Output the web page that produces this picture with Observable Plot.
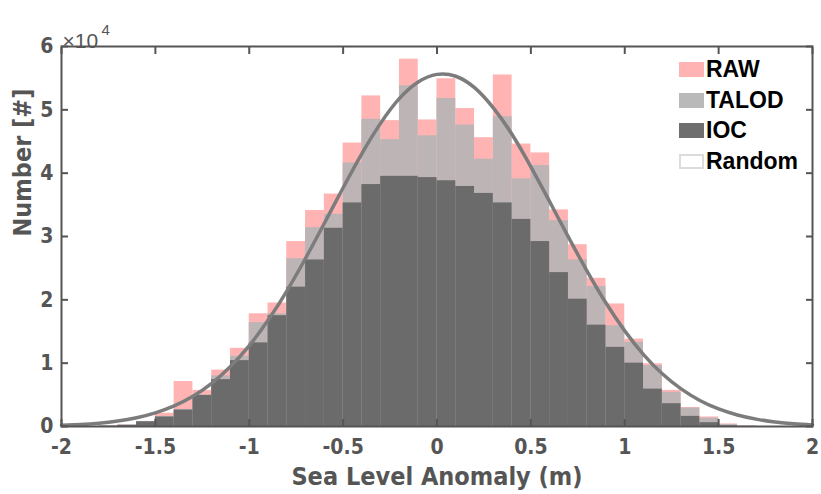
<!DOCTYPE html>
<html><head><meta charset="utf-8">
<script src="https://cdn.jsdelivr.net/npm/d3@7"></script>
<script src="https://cdn.jsdelivr.net/npm/@observablehq/plot@0.6"></script>
<style>
html,body{margin:0;padding:0;background:#fff;}
#wrap{position:relative;width:821px;height:494px;}
#legend{position:absolute;left:679px;top:54px;font-family:"Liberation Sans",Arial,sans-serif;font-weight:bold;font-size:23px;color:#000;}
#legend .item{display:flex;align-items:center;height:30.7px;}
#legend .sw{width:25px;height:15px;margin-right:2px;box-sizing:border-box;}
</style>
</head><body><div id="wrap"><div id="chart"></div><div id="legend"></div></div>
<script>
// Bin left edges (m), bin width 0.1
const binStart = [-1.8,-1.7,-1.6,-1.5,-1.4,-1.3,-1.2,-1.1,-1.0,-0.9,-0.8,-0.7,-0.6,-0.5,-0.4,-0.3,-0.2,-0.1,0.0,0.1,0.2,0.3,0.4,0.5,0.6,0.7,0.8,0.9,1.0,1.1,1.2,1.3,1.4,1.5,1.6];
const rawCounts   = [50,200,800,2100,7100,5700,8900,12350,17800,19500,29200,34100,36700,44750,52200,48300,58000,48400,54900,50200,45600,55500,44600,43200,34200,28700,23400,19350,13800,9900,5700,3000,1500,400,50];
const talodCounts = [50,200,800,1600,2700,5000,8000,11100,16400,17800,26500,31400,33500,41600,48500,45300,53800,45900,51800,47600,42200,48900,39100,41200,32500,26300,22100,15900,13300,9600,5400,2900,1300,300,50];
const iocCounts   = [50,200,740,1500,2600,4900,7400,10400,13200,17500,22000,26300,31300,35300,38200,39500,39500,39300,38800,37900,36800,35300,32700,29200,24300,20100,16000,12500,10000,5900,3600,1600,600,100,20];
const binWidth = 0.1;
// "Random" curve
const curveX = [-2,-1.9,-1.8,-1.7,-1.6,-1.5,-1.4,-1.3,-1.2,-1.1,-1,-0.9,-0.8,-0.7,-0.6,-0.5,-0.4,-0.3,-0.2,-0.1,0,0.1,0.2,0.3,0.4,0.5,0.6,0.7,0.8,0.9,1,1.1,1.2,1.3,1.4,1.5,1.6,1.7,1.8,1.9,2];
const curveY = [180,320,530,870,1390,2160,3250,4770,6810,9460,12770,16760,21390,26570,32100,37700,43100,47900,51800,54400,55600,55300,53500,50300,46100,41000,35500,29900,24500,19500,15100,11360,8320,5930,4110,2770,1820,1160,720,430,250];
const xTicks = [-2,-1.5,-1,-0.5,0,0.5,1,1.5,2];
const yTicks = [0,10000,20000,30000,40000,50000,60000];
const seriesNames = ["RAW","TALOD","IOC","Random"];
const barColors = ["#ffb3b3","#bdb4b6","#6b6b6b"];
const legendColors = ["#ffb3b3","#b9b9b9","#6e6e6e","#ffffff"];
const curveColor = "#7c7c7c";

const bins = binStart.map((s,i)=>({x1:s, x2:+(s+binWidth).toFixed(2), raw:rawCounts[i], talod:talodCounts[i], ioc:iocCounts[i]}));
const curve = curveX.map((x,i)=>({x, y:curveY[i]}));

const axisFont = '"Liberation Sans Narrow","DejaVu Sans Condensed","Arial Narrow",sans-serif';
const gray = "#555555";

const chart = Plot.plot({
  width: 821, height: 494,
  marginLeft: 61, marginRight: 9, marginTop: 46, marginBottom: 68,
  x: {domain: [-2, 2]},
  y: {domain: [0, 60000]},
  style: {fontFamily: axisFont, background: "#fff", overflow: "visible"},
  marks: [
    Plot.rect(bins, {x1:"x1", x2:"x2", y1: d=>0, y2:"raw", fill: barColors[0], inset: 0}),
    Plot.rect(bins, {x1:"x1", x2:"x2", y1: d=>0, y2:"talod", fill: barColors[1], inset: 0}),
    Plot.rect(bins, {x1:"x1", x2:"x2", y1: d=>0, y2:"ioc", fill: barColors[2], inset: 0}),
    Plot.line(curve, {x:"x", y:"y", stroke: curveColor, strokeWidth: 3.5, curve: "natural"}),
    Plot.axisX({ticks: xTicks, tickSize: -7, tickPadding: 20, tickFormat: d=>String(d), label: null, fontSize: 21, fontWeight: "bold", color: gray, strokeWidth: 2}),
    Plot.axisX({anchor: "top", ticks: xTicks, tickSize: -7, tickFormat: ()=>"", label: null, color: gray, strokeWidth: 2}),
    Plot.axisY({ticks: yTicks, tickSize: -7, tickPadding: 15, tickFormat: d=>String(d/10000), label: null, fontSize: 21, fontWeight: "bold", color: gray, strokeWidth: 2}),
    Plot.axisY({anchor: "right", ticks: yTicks, tickSize: -7, tickFormat: ()=>"", label: null, color: gray, strokeWidth: 2}),
    Plot.frame({stroke: "#555555", strokeWidth: 2}),
    Plot.text(["Sea Level Anomaly (m)"], {frameAnchor: "bottom", dy: 58, fontSize: 25, fontWeight: "bold", fill: gray}),
    Plot.text(["Number [#]"], {frameAnchor: "left", dx: -39, rotate: -90, fontSize: 25, fontWeight: "bold", fill: gray}),
    Plot.text(["×10"], {frameAnchor: "top-left", textAnchor: "start", dx: 1, dy: -13, fontSize: 21, fill: gray, fontFamily: '"Liberation Sans",Arial,sans-serif'}),
    Plot.text(["4"], {frameAnchor: "top-left", textAnchor: "start", dx: 40, dy: -22, fontSize: 15, fill: gray, fontFamily: '"Liberation Sans",Arial,sans-serif'})
  ]
});
document.getElementById("chart").appendChild(chart);

const legend = document.getElementById("legend");
seriesNames.forEach((name,i)=>{
  const item = document.createElement("div"); item.className = "item";
  const sw = document.createElement("div"); sw.className = "sw";
  sw.style.background = legendColors[i];
  if (name === "Random") sw.style.border = "2px solid #dcdcdc";
  const t = document.createElement("span"); t.textContent = name;
  item.appendChild(sw); item.appendChild(t); legend.appendChild(item);
});
</script>
</body></html>
